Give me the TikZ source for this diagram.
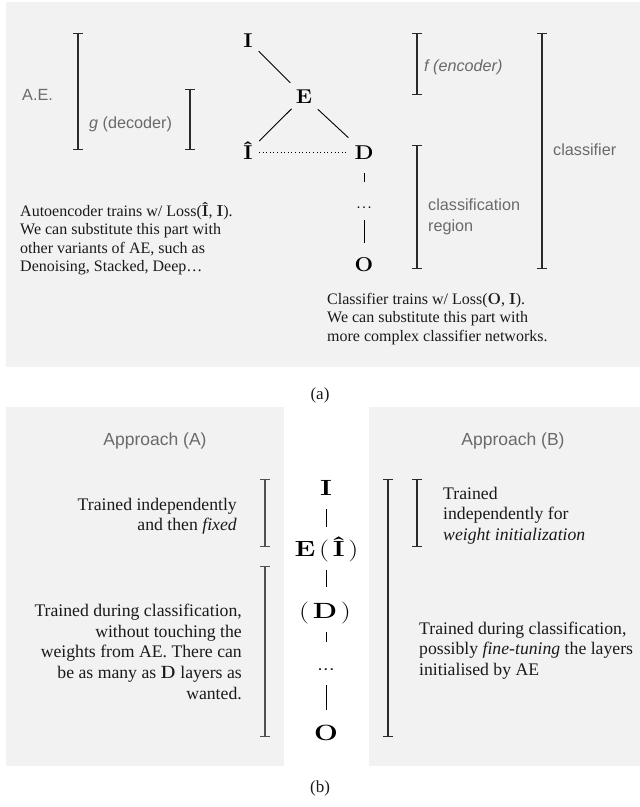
\documentclass[tikz,border=0pt]{standalone}
\usepackage[no-math]{fontspec}
\setmainfont{Liberation Serif}
\setsansfont{Liberation Sans}
\newfontfamily\lmsym{Latin Modern Roman}
\newfontfamily\lmsymA[FakeStretch=1.1]{Latin Modern Roman}
\newfontfamily\lmsymB[FakeStretch=1.28]{Latin Modern Roman}
\usetikzlibrary{arrows.meta}

\definecolor{panel}{HTML}{F2F2F2}
\definecolor{labelgray}{HTML}{6A6A6A}
\definecolor{ink}{HTML}{1A1A1A}
\definecolor{barA}{HTML}{2A2A2A}
\definecolor{barB}{HTML}{505050}

% bold symbol letters set in Latin Modern
\newcommand\bsym[1]{{\lmsym\bfseries #1}}
% left- and right-aligned text blocks whose baseline is the first line
\newcommand\lblock[1]{\begin{tabular}[t]{@{}l@{}}#1\end{tabular}}
\newcommand\rblock[1]{\begin{tabular}[t]{@{}r@{}}#1\end{tabular}}
% vertical range bar with end ticks
\newcommand\rangebar[4][barA]{\draw[rangebarstyle,#1] (#2,#3) -- (#2,#4);}

\tikzset{
  symA/.style={inner sep=0pt, anchor=base, font=\lmsymA\fontsize{20}{24}\selectfont,
    text height=13.7pt, text depth=0pt},
  symB/.style={inner sep=0pt, anchor=base, font=\lmsymB\fontsize{22}{26}\selectfont,
    text height=15.1pt, text depth=0pt},
  link/.style={draw=black, line width=0.9pt},
  dotlink/.style={draw=black, line width=1pt, dash pattern=on 1pt off 2.6pt},
  rangebarstyle/.style={line width=1.2pt,
    {Bar[width=9.5pt,line width=1.2pt]}-{Bar[width=9.5pt,line width=1.2pt]}},
  sanslbl/.style={inner sep=0pt, text=labelgray, font=\sffamily\fontsize{16.2}{21}\selectfont},
  head/.style={inner sep=0pt, anchor=base, text=labelgray, font=\sffamily\fontsize{17.5}{21}\selectfont},
  noteA/.style={inner sep=0pt, text=ink, font=\fontsize{16}{18.5}\selectfont},
  noteB/.style={inner sep=0pt, text=ink, font=\fontsize{17.7}{20.6}\selectfont},
  captext/.style={inner sep=0pt, anchor=base, text=ink, font=\fontsize{17}{20}\selectfont},
}

\begin{document}
\begin{tikzpicture}[x=1pt,y=-1pt]
\useasboundingbox (0,0) rectangle (640,807);

% panels
\fill[panel] (6,2) rectangle (640,367);
\fill[panel] (6,407) rectangle (284,766);
\fill[panel] (369,407) rectangle (640,766);

% ---------- (a) autoencoder / classifier ----------
\node[symA] (I)  at (248,47.3)  {\bfseries I};
\node[symA] (E)  at (304,103.3) {\bfseries E};
\node[symA] (Ih) at (248,159)   {\bfseries Î};
\node[symA] (D)  at (364,159)   {\bfseries D};
\node[symA] (dA) at (364,208.5) {...};
\node[symA] (O)  at (364,271.5) {\bfseries O};

\draw[link, shorten <=15.2pt, shorten >=19.4pt] (I.center) -- (E.center);
\draw[link, shorten <=17.4pt, shorten >=15.7pt] (E.center) -- (Ih.center);
\draw[link, shorten <=18.8pt, shorten >=21.3pt] (E.center) -- (D.center);
\draw[dotlink, shorten <=11pt, shorten >=15pt] (Ih.center) -- (D.center);
\draw[link, shorten <=20.8pt, shorten >=19.6pt] (D.center) -- (dA.center);
\draw[link, shorten <=18.4pt, shorten >=21.6pt] (dA.center) -- (O.center);

\rangebar{78}{33}{150}
\rangebar{190}{89}{150}
\rangebar{417}{33}{95}
\rangebar{417}{145}{269}
\rangebar{542}{33}{269}

\node[sanslbl, anchor=base west] (ae)   at (22,100) {A.E.};
\node[sanslbl, anchor=base west] (dec)  at (89,128) {\textit{g} (decoder)};
\node[sanslbl, anchor=base west] (enc)  at (424,71) {\textit{f (encoder)}};
\node[sanslbl, anchor=base west] (creg) at (428,210) {\lblock{classification\\region}};
\node[sanslbl, anchor=base west] (cls)  at (553,155) {classifier};

\node[noteA, anchor=base west] (aenote) at (20,216) {\lblock{%
  Autoencoder trains w/ Loss(\bsym{Î}, \bsym{I}).\\
  We can substitute this part with\\
  other variants of AE, such as\\
  Denoising, Stacked, Deep…}};
\node[noteA, anchor=base west] (clnote) at (327,304) {\lblock{%
  Classifier trains w/ Loss(\bsym{O}, \bsym{I}).\\
  We can substitute this part with\\
  more complex classifier networks.}};

\node[captext] (capa) at (320,399) {(a)};

% ---------- (b) two training approaches ----------
\node[head] (hA) at (155,445) {Approach (A)};
\node[head] (hB) at (513,445) {Approach (B)};

\node[symB] (I2) at (326,495)     {\bfseries I};
\node[symB] (E2) at (326.5,556.7) {\textbf{E}\,(\,\textbf{Î}\,)};
\node[symB] (D2) at (325,618.3)   {(\,\textbf{D}\,)};
\node[symB] (d2) at (326,670)     {.\kern-1.2pt.\kern-1.2pt.};
\node[symB] (O2) at (326,740.7)   {\bfseries O};

\draw[link, shorten <=21.9pt, shorten >=22.1pt] (I2.center) -- (I2.center |- E2.center);
\draw[link, shorten <=20.9pt, shorten >=23.7pt] (I2.center |- E2.center) -- (I2.center |- D2.center);
\draw[link, shorten <=21.3pt, shorten >=20.4pt] (I2.center |- D2.center) -- (d2.center);
\draw[link, shorten <=22.6pt, shorten >=23.1pt] (d2.center) -- (O2.center);

\rangebar[barB]{265}{479}{547}
\rangebar[barB]{265}{566}{737}
\rangebar[barA]{388}{479}{737}
\rangebar[barA]{417}{479}{547}

\node[noteB, anchor=base east] (aind) at (237,510) {\rblock{%
  Trained independently\\
  and then \textit{fixed}}};
\node[noteB, anchor=base east] (adur) at (242,616.7) {\rblock{%
  Trained during classification,\\
  without touching the\\
  weights from AE. There can\\
  be as many as \bsym{D} layers as\\
  wanted.}};
\node[noteB, anchor=base west] (bind) at (443,499.3) {\lblock{%
  Trained\\
  independently for\\
  \textit{weight initialization}}};
\node[noteB, anchor=base west] (bdur) at (419,634) {\lblock{%
  Trained during classification,\\
  possibly \textit{fine-tuning} the layers\\
  initialised by AE}};

\node[captext] (capb) at (320,792) {(b)};
\end{tikzpicture}
\end{document}
